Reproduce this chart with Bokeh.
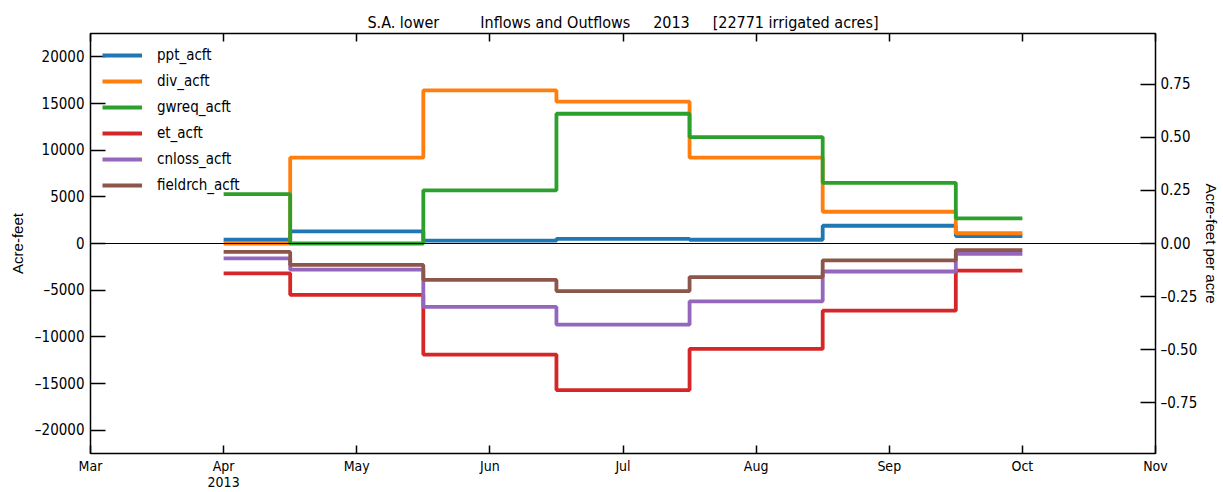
from bokeh.plotting import figure
from bokeh.models import (Range1d, LinearAxis, FixedTicker, Span, Legend, LegendItem)
from bokeh.embed import file_html
from bokeh.resources import INLINE

# Months on the x axis (evenly spaced, Mar..Nov)
month_labels = ["Mar", "Apr", "May", "Jun", "Jul", "Aug", "Sep", "Oct", "Nov"]
# Monthly data points (first of each month, Apr..Oct)
data_months = ["Apr", "May", "Jun", "Jul", "Aug", "Sep", "Oct"]

ppt_acft = [400, 1300, 300, 500, 400, 1900, 800]
div_acft = [0, 9200, 16400, 15200, 9200, 3400, 1100]
gwreq_acft = [5300, 0, 5700, 13900, 11400, 6500, 2700]
et_acft = [-3200, -5500, -11900, -15700, -11300, -7200, -2900]
cnloss_acft = [-1600, -2800, -6800, -8700, -6200, -3000, -1100]
fieldrch_acft = [-900, -2300, -3900, -5100, -3600, -1800, -700]

irrigated_acres = 22771
y_left_ticks = [-20000, -15000, -10000, -5000, 0, 5000, 10000, 15000, 20000]
y_right_ticks = [-0.75, -0.5, -0.25, 0.0, 0.25, 0.5, 0.75]

series = [
    ("ppt_acft", ppt_acft, "#1f77b4"),
    ("div_acft", div_acft, "#ff7f0e"),
    ("gwreq_acft", gwreq_acft, "#2ca02c"),
    ("et_acft", et_acft, "#d62728"),
    ("cnloss_acft", cnloss_acft, "#9467bd"),
    ("fieldrch_acft", fieldrch_acft, "#8c564b"),
]

NARROW = "DejaVu Sans Condensed"
REG = "Liberation Sans"
NB = "\u00a0"
DASH = "\u2013"

title_text = ("S.A. lower" + NB * 9 + "Inflows and Outflows" + NB * 5 + "2013"
              + NB * 5 + "[22771 irrigated acres]")

y_lim = 22500
p = figure(width=1223, height=492,
           output_backend="svg", toolbar_location=None,
           x_range=Range1d(0, len(month_labels) - 1),
           y_range=Range1d(-y_lim, y_lim),
           min_border_left=90, min_border_right=62,
           min_border_top=33, min_border_bottom=38,
           title=title_text)
p.title.align = "center"
p.title.text_font = NARROW
p.title.text_font_size = "16px"
p.title.text_font_style = "normal"
p.title.text_color = "black"
p.title.offset = 0
p.title.standoff = 4

p.grid.visible = False
p.outline_line_color = "black"
p.outline_line_width = 1.5
p.background_fill_color = "white"
p.border_fill_color = "white"

xs = [month_labels.index(m) for m in data_months]

items = []
for name, vals, color in series:
    r = p.step(xs, vals, mode="center", line_color=color, line_width=3.8)
    items.append(LegendItem(label=name, renderers=[r]))

p.add_layout(Span(location=0, dimension="width", line_color="black", line_width=1))

def style_axis(ax, tick_in):
    ax.major_tick_in = tick_in
    ax.major_tick_out = 0
    ax.minor_tick_line_color = None
    ax.axis_line_color = "black"
    ax.major_tick_line_color = "black"
    ax.major_tick_line_width = 1.5
    ax.major_label_text_font = NARROW
    ax.major_label_text_font_size = "15px"
    ax.major_label_text_color = "black"
    ax.axis_label_text_font = REG
    ax.axis_label_text_font_size = "15px"
    ax.axis_label_text_font_style = "normal"
    ax.axis_label_text_color = "black"

# bottom axis (months)
xax = p.xaxis[0]
xax.ticker = FixedTicker(ticks=list(range(len(month_labels))))
xax.major_label_overrides = {i: m for i, m in enumerate(month_labels)}
xax.major_label_overrides[1] = "Apr\n2013"
xax.major_label_standoff = 4
style_axis(xax, 8)
xax.major_label_text_font_size = "14px"
xax.major_label_text_line_height = 1.0

# top axis: tick marks only
top = LinearAxis(ticker=FixedTicker(ticks=list(range(len(month_labels)))))
style_axis(top, 8)
top.major_label_overrides = {i: "" for i in range(len(month_labels))}
top.major_label_standoff = 0
p.add_layout(top, "above")

# left axis (acre-feet)
yax = p.yaxis[0]
yax.ticker = FixedTicker(ticks=y_left_ticks)
yax.major_label_overrides = {t: str(t).replace("-", DASH) for t in y_left_ticks}
yax.axis_label = "Acre-feet"
yax.major_label_standoff = 6
yax.axis_label_standoff = 6
style_axis(yax, 15)

# right axis (acre-feet per irrigated acre)
p.extra_y_ranges = {"per_acre": Range1d(-y_lim / irrigated_acres, y_lim / irrigated_acres)}
rax = LinearAxis(y_range_name="per_acre", ticker=FixedTicker(ticks=y_right_ticks))
rax.major_label_overrides = {t: ("%.2f" % t).replace("-", DASH) for t in y_right_ticks}
rax.axis_label = "Acre-feet per acre"
rax.major_label_standoff = 5
rax.axis_label_standoff = 3
style_axis(rax, 15)
p.add_layout(rax, "right")

legend = Legend(items=items, location="top_left")
legend.border_line_color = None
legend.background_fill_alpha = 0
legend.margin = 12
legend.padding = 3
legend.glyph_width = 40
legend.glyph_height = 20
legend.spacing = 6
legend.label_standoff = 15
legend.label_text_font = NARROW
legend.label_text_font_size = "15px"
legend.label_text_color = "black"
p.add_layout(legend)

open("out.html", "w").write(file_html(p, INLINE))
